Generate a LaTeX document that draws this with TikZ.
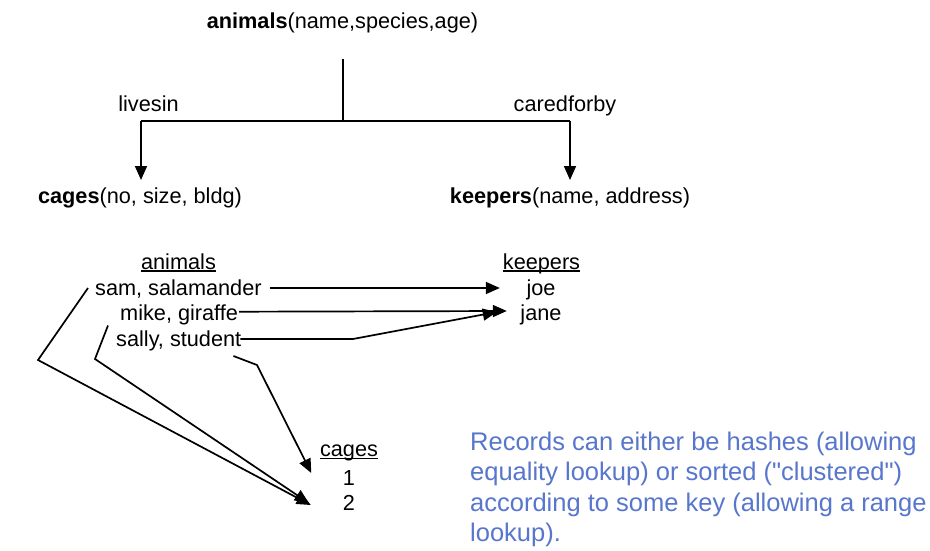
\documentclass[tikz,border=0pt]{standalone}
\usepackage{fontspec}
\setmainfont{Liberation Sans}
\usetikzlibrary{arrows.meta,calc}
\definecolor{noteblue}{RGB}{88,118,204}
\newcommand\hdul[1]{\setbox0\hbox{#1}\rlap{\rule[-2.6pt]{\wd0}{1.4pt}}\box0}
\begin{document}
\begin{tikzpicture}[x=1pt,y=-1pt,
  lbl/.style={inner sep=0pt, anchor=base, font=\fontsize{21.7}{26}\selectfont},
  lblw/.style={lbl, anchor=base west},
  note/.style={inner sep=0pt, anchor=base west, text=noteblue, font=\fontsize{25.5}{30}\selectfont},
  conn/.style={line width=1.7pt, line join=miter},
  arr/.style={conn, -{Triangle[length=14pt,width=12pt]}},
]
\useasboundingbox[fill=white] (0,0) rectangle (930,551);

% schema tree
\node[lbl] (animals) at (342.5,29) {\textbf{animals}(name,species,age)};
\node[lbl] (livesin) at (148.5,112) {livesin};
\node[lbl] (caredforby) at (565,112) {caredforby};
\node[lbl] (cages) at (140,203) {\textbf{cages}(no, size, bldg)};
\node[lbl] (keepers) at (570,203) {\textbf{keepers}(name, address)};

\coordinate (root) at (343,59);
\coordinate (fork) at (343,121);
\coordinate (lfork) at (141,121);
\coordinate (rfork) at (570,121);
\draw[conn] (root) -- (fork);
\draw[conn] (lfork) -- (rfork);
\draw[arr] (lfork) -- (lfork |- 0,180);
\draw[arr] (rfork) -- (rfork |- 0,180);

% instances
\node[lbl] (animalshd) at (178.5,269) {\hdul{animals}};
\node[lblw] (sam) at (95,295) {sam, salamander};
\node[lblw] (mike) at (120,320.5) {mike, giraffe};
\node[lblw] (sally) at (116,346) {sally, student};

\node[lbl] (keepershd) at (541.5,269) {\hdul{keepers}};
\node[lbl] (joe) at (541,295) {joe};
\node[lbl] (jane) at (541,320) {jane};

\node[lbl] (cageshd) at (349,456.5) {\hdul{cages}};
\node[lbl] (c1) at (349,485) {1};
\node[lbl] (c2) at (349,510) {2};

% connectors to keepers
\draw[arr] ($(sam.base east)+(8,-7)$) -- ($(joe.base west)+(-26.5,-7)$);
\draw[arr] ($(mike.base east)+(1,-8.8)$) -- ($(jane.base west)+(-13.5,-9)$);
\coordinate (sallybend) at (353,339);
\draw[arr] ($(sally.base east)+(-1,-7)$) -- (sallybend) -- ($(jane.base west)+(-23.5,-8)$);

% connectors to cages
\coordinate (sambend) at (38,360);
\coordinate (mikebend) at (95,359);
\coordinate (sallybendb) at (257,365);
\draw[arr] ($(sam.base west)+(-7,-7)$) -- (sambend) -- ($(c2.base west)+(-32,-5)$);
\draw[arr] ($(mike.base west)+(-12,5)$) -- (mikebend) -- ($(c2.base west)+(-34,-7)$);
\draw[arr] ($(sally.base east)+(-8,10)$) -- (sallybendb) -- ($(c1.base west)+(-31.5,-12)$);

% note
\node[note] (n1) at (470,450) {Records can either be hashes (allowing};
\node[note] (n2) at (470,480.5) {equality lookup) or sorted (\textquotedbl clustered\textquotedbl)};
\node[note] (n3) at (470,511) {according to some key (allowing a range};
\node[note] (n4) at (470,541.5) {lookup).};
\end{tikzpicture}
\end{document}
